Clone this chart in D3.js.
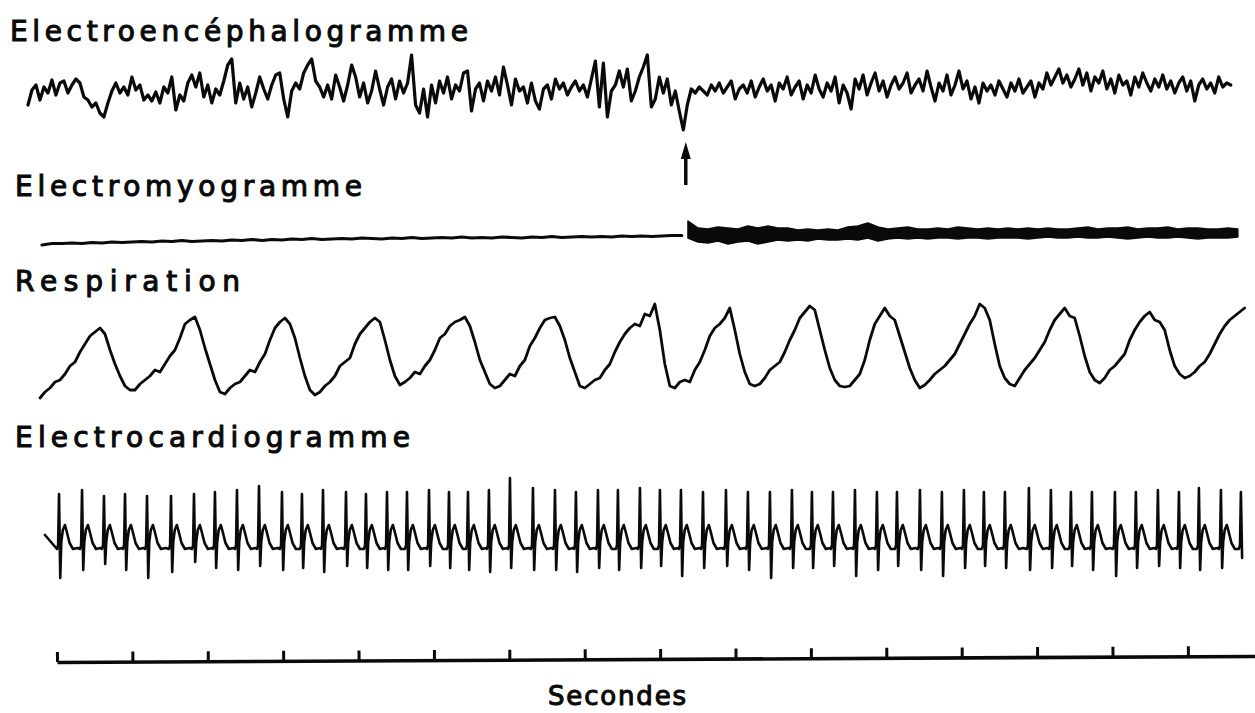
<!DOCTYPE html>
<html><head><meta charset="utf-8">
<script src="https://cdn.jsdelivr.net/npm/d3@7"></script>
<style>body{margin:0;background:#fff} svg{display:block}</style>
</head><body>
<svg id="c" width="1255" height="713"></svg>
<script>
// ---------------- DATA ----------------
const trackLabels = ["Electroencéphalogramme", "Electromyogramme", "Respiration", "Electrocardiogramme"];
const axisLabel = "Secondes";
const secondTicks = [0,1,2,3,4,5,6,7,8,9,10,11,12,13,14,15];
const recordEnd = 15.89;          // seconds (end of time line)
const arrowTime = 8.34;           // marker (s)

// EEG: uniformly sampled, amplitude in arbitrary units (up = +)
const eegStart = -0.385, eegStep = 0.053;
const eegValues = [
 -10, 5, 10, -5, 8, 2, 15, 0, 12, 14,
 2, 10, 16, 12, -2, -5, -12, -8, -18, -22,
 -8, 4, 12, 2, 8, 0, 18, 5, 10, -5,
 0, -6, 3, -8, 8, 2, 18, -15, 0, -6,
 12, 20, 8, 22, -2, 10, -8, 6, 0, 14,
 30, 36, -8, 12, -4, 8, -12, 2, 18, 6,
 -4, 10, 20, 22, -4, -22, 4, 12, 6, 22,
 30, 36, 14, 8, -2, 10, -4, 20, 8, -6,
 10, 30, 18, -2, 12, -8, 4, 24, 6, -10,
 8, 16, -4, 14, 2, 12, 40, -10, -18, 6,
 -22, 10, -8, 14, 2, 18, -4, 10, 4, 22,
 24, -16, 6, 12, -6, 14, 4, 18, 0, 28,
 10, -10, 16, 4, 8, -8, 12, -6, -14, 6,
 10, -4, 16, 6, 12, 0, 8, 14, 4, 10,
 -2, 16, 34, -12, 32, -22, 4, 10, 24, 8,
 26, -6, 4, 18, 28, 40, -12, -4, 18, 2,
 16, -10, 4, -16, -35, -10, 6, 2, 8, 4,
 0, 10, 4, 12, 2, 8, 14, -4, 6, 10,
 2, 14, -2, 8, 16, 4, 10, -6, 12, 6,
 18, 0, 8, 14, -4, 10, 2, 20, 6, -2,
 12, 4, 18, -8, 10, 2, -14, 16, 6, 20,
 0, 12, 22, 4, 14, -2, 10, 18, 6, 12,
 22, 2, 10, 16, 4, 24, 8, -6, 12, 4,
 20, 0, 10, 24, 6, 14, -4, 8, -8, 12,
 4, 10, 0, 14, 6, -2, 12, 4, 16, 2,
 8, 14, -2, 12, 6, 22, 10, 18, 26, 12,
 20, 8, 16, 26, 10, 22, 4, 18, 12, 24,
 6, 16, 2, 20, 10, 14, 0, 18, 8, 22,
 12, 4, 16, 8, 20, 6, 14, 2, 12, 18,
 4, 14, -6, 10, 16, 6, 12, 2, 18, 8,
 12, 10
];

// EMG before the marker: thin trace
const emgRestStart = -0.199, emgRestStep = 0.1326;
const emgRest = [
 -5, -3.5, -3.5, -3, -3.5, -2.5, -3, -2, -2.5, -2,
 -1.5, -2, -1, -1.5, -0.5, -1.5, -1, -0.5, -1, 0,
 -0.5, 0.5, -0.5, 0.5, 0, 1, 0.5, 1.5, 0.5, 1,
 1.5, 1, 2, 1.5, 1, 2, 1.5, 2.5, 1.5, 2,
 2.5, 2, 3, 2, 2.5, 2, 3, 2.5, 2, 3,
 2.5, 3.5, 2.5, 3, 3.5, 3, 3.5, 3, 4, 3.5,
 4, 3.5, 4, 4.5, 4.5
];
// EMG after the marker: dense activity, upper / lower envelope
const emgActiveStart = 8.369, emgActiveStep = 0.1326;
const emgActiveTop = [
 19, 12, 11, 13, 12, 11, 14, 12, 14, 12, 12, 10, 11, 10, 11, 10, 13, 14, 17, 13,
 11, 12, 13, 11, 11, 12, 11, 13, 12, 11, 12, 11, 12, 11, 12, 11, 12, 11, 11, 12,
 13, 11, 12, 12, 13, 11, 12, 12, 13, 11, 12, 12, 11, 11, 12, 11
];
const emgActiveBottom = [
 2, -2, -3, -1, -4, -2, -1, -4, -2, 0, -1, 0, -1, 1, 0, 0, 1, 0, 2, -1,
 1, 2, 1, 2, 1, 2, 2, 1, 2, 2, 1, 2, 2, 2, 1, 2, 3, 2, 2, 3,
 2, 2, 3, 2, 1, 2, 3, 2, 2, 3, 2, 1, 2, 2, 2, 3
];

// Respiration: uniformly sampled
const respStart = -0.2255, respStep = 0.0663;
const respValues = [
 2,8,12,18,20,26,34,38,48,56,64,68,
 72,66,50,36,24,14,10,10,
 16,20,24,30,28,36,44,50,62,76,80,83,
 70,52,36,20,8,6,
 12,16,18,24,30,28,38,46,60,72,78,82,
 76,62,42,24,10,5,8,
 14,18,24,34,38,42,56,66,72,78,82,
 78,60,40,24,15,
 18,22,28,26,34,40,50,62,66,74,78,80,83,
 74,58,40,28,16,12,14,
 20,26,24,34,40,54,62,72,80,82,83,
 74,60,42,28,14,12,
 16,20,22,30,36,48,58,66,72,76,74,86,84,96,
 70,36,14,12,
 18,20,18,30,38,50,64,72,76,82,92,
 70,46,28,16,14,16,
 22,30,34,38,48,60,70,82,88,94,90,
 70,50,32,20,14,13,14,
 20,26,40,60,76,84,92,
 84,80,64,48,32,20,12,15,
 20,26,30,34,40,46,56,66,76,84,96,92,
 80,56,34,22,16,14,
 22,30,36,42,50,58,70,80,86,92,84,82,
 64,44,28,20,17,
 22,30,34,40,46,60,70,78,84,88,80,78,70,
 50,34,26,22,
 24,28,34,38,46,56,66,74,80,84,88,92
];

// ECG: R-wave times (s), R heights, S depths (arbitrary units)
const ecgBeatTimes = [
 0.027, 0.332, 0.623, 0.902, 1.194, 1.512, 1.817, 2.095, 2.387, 2.679,
 2.984, 3.249, 3.528, 3.833, 4.098, 4.377, 4.642, 4.934, 5.199, 5.451,
 5.729, 6.008, 6.313, 6.605, 6.883, 7.175, 7.440, 7.732, 7.997, 8.276,
 8.568, 8.873, 9.164, 9.456, 9.748, 10.013, 10.292, 10.584, 10.875, 11.141,
 11.446, 11.737, 12.029, 12.294, 12.573, 12.891, 13.183, 13.448, 13.727, 14.032,
 14.310, 14.602, 14.881, 15.146, 15.438, 15.703
];
const ecgR = [
 46, 50, 44, 46, 44, 44, 46, 48, 50, 54,
 48, 46, 50, 48, 46, 48, 48, 50, 48, 48,
 50, 62, 52, 50, 48, 50, 50, 52, 50, 50,
 48, 50, 48, 48, 50, 48, 48, 50, 48, 48,
 50, 48, 50, 48, 48, 52, 50, 48, 48, 48,
 48, 50, 48, 52, 50, 48
];
const ecgS = [
 38, 30, 24, 30, 38, 32, 22, 28, 30, 26,
 30, 28, 32, 26, 28, 30, 30, 26, 28, 30,
 32, 28, 30, 30, 32, 28, 30, 28, 26, 36,
 28, 26, 30, 38, 28, 28, 26, 36, 30, 26,
 30, 36, 28, 26, 28, 30, 28, 26, 30, 36,
 28, 26, 28, 30, 28, 18
];
// one heart-beat complex: offset from R (ms) and level ("R"/"S" use per-beat values)
const ecgComplexMs    = [-27, -12, 0, 16, 30, 50, 78, 100, 140, 185, 245];
const ecgComplexLevel = [-9, -5, "R", "S", -2, 10, 15, 9, -3, -9, -8];
const ecgLeadIn = { t: -0.16, v: 5 };

// ---------------- LAYOUT ----------------
const W = 1255, H = 713;
const svg = d3.select("#c");
svg.append("rect").attr("width", W).attr("height", H).attr("fill", "#fff");

const x = d3.scaleLinear().domain([0, recordEnd]).range([57, 1255]);
const yEEG  = d3.scaleLinear().domain([-40, 40]).range([135, 55]);
const yEMG  = d3.scaleLinear().domain([-10, 20]).range([250, 220]);
const yResp = d3.scaleLinear().domain([0, 100]).range([400, 300]);
const yECG  = d3.scaleLinear().domain([-50, 70]).range([590, 470]);

const ink = "#0a0a0a";
const font = "'DejaVu Sans', sans-serif";

// Track labels
const labelLayout = [
  { x: 10, y: 41, w: 458 },
  { x: 15, y: 196, w: 347 },
  { x: 15, y: 291, w: 225 },
  { x: 15, y: 447, w: 395 }
];
svg.selectAll("text.lbl").data(trackLabels).join("text")
  .attr("class", "lbl")
  .attr("x", (d, i) => labelLayout[i].x)
  .attr("y", (d, i) => labelLayout[i].y)
  .attr("textLength", (d, i) => labelLayout[i].w)
  .attr("lengthAdjust", "spacing")
  .attr("font-family", font).attr("font-weight", "normal").attr("font-size", 28)
  .attr("fill", ink).attr("stroke", ink).attr("stroke-width", 1.1)
  .text(d => d);

const lineGen = (ys) => d3.line().x(d => x(d[0])).y(d => ys(d[1])).curve(d3.curveLinear);
const sampled = (start, step, vals) => vals.map((v, i) => [start + i * step, v]);

function trace(points, ys, width) {
  svg.append("path").datum(points)
    .attr("d", lineGen(ys))
    .attr("fill", "none").attr("stroke", ink)
    .attr("stroke-width", width)
    .attr("stroke-linejoin", "round").attr("stroke-linecap", "round");
}

// EEG
trace(sampled(eegStart, eegStep, eegValues), yEEG, 3.2);

// Arrow marker
const ax = x(arrowTime);
svg.append("line").attr("x1", ax).attr("x2", ax).attr("y1", 156).attr("y2", 185)
  .attr("stroke", ink).attr("stroke-width", 3.5);
svg.append("path")
  .attr("d", `M${ax - 5},159 L${ax + 5},159 L${ax},142 Z`)
  .attr("fill", ink);

// EMG rest
trace(sampled(emgRestStart, emgRestStep, emgRest), yEMG, 3.2);
// EMG active band
const bandPts = emgActiveTop.map((v, i) => ({ t: emgActiveStart + i * emgActiveStep, top: v, bot: emgActiveBottom[i] }));
svg.append("path").datum(bandPts)
  .attr("d", d3.area().x(d => x(d.t)).y0(d => yEMG(d.bot)).y1(d => yEMG(d.top)).curve(d3.curveLinear))
  .attr("fill", ink).attr("stroke", ink).attr("stroke-width", 1.5).attr("stroke-linejoin", "round");

// Respiration
trace(sampled(respStart, respStep, respValues), yResp, 2.8);

// ECG
const ecgPts = [[ecgLeadIn.t, ecgLeadIn.v]];
ecgBeatTimes.forEach((tb, i) => {
  const next = i < ecgBeatTimes.length - 1 ? ecgBeatTimes[i + 1] : tb + 0.05;
  ecgComplexMs.forEach((ms, k) => {
    const t = tb + ms / 1000;
    if (i === ecgBeatTimes.length - 1 && ms > 20) return;
    if (ms > 0 && t > next - 0.03) return;
    const lv = ecgComplexLevel[k];
    const v = lv === "R" ? ecgR[i] : lv === "S" ? -ecgS[i] : lv;
    ecgPts.push([t, v]);
  });
});
trace(ecgPts, yECG, 2.6);

// Time axis
const axisG = svg.append("g").attr("transform", "translate(0,662) rotate(-0.29 57 0)");
axisG.call(d3.axisTop(x).tickValues(secondTicks).tickSize(10).tickSizeOuter(0).tickFormat(""));
axisG.select(".domain").attr("stroke", ink).attr("stroke-width", 3.6);
axisG.selectAll(".tick line").attr("stroke", ink).attr("stroke-width", 3);

svg.append("text")
  .attr("x", 548).attr("y", 705)
  .attr("textLength", 138).attr("lengthAdjust", "spacing")
  .attr("font-family", font).attr("font-weight", "normal").attr("font-size", 26)
  .attr("fill", ink).attr("stroke", ink).attr("stroke-width", 1.1)
  .text(axisLabel);
</script>
</body></html>
